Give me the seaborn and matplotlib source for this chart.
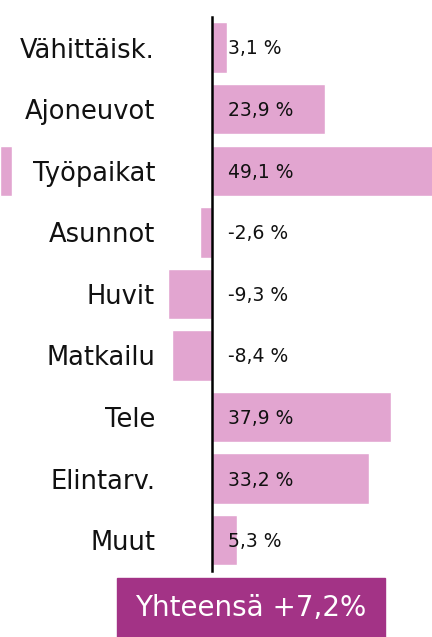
import matplotlib
matplotlib.use("Agg")
import matplotlib.pyplot as plt
import seaborn as sns
import pandas as pd
from matplotlib.patches import Rectangle

# Data
categories = ["Vähittäisk.", "Ajoneuvot", "Työpaikat", "Asunnot", "Huvit",
              "Matkailu", "Tele", "Elintarv.", "Muut"]
values = [3.1, 23.9, 49.1, -2.6, -9.3, -8.4, 37.9, 33.2, 5.3]
total_label = "Yhteensä +7,2%"

bar_color = "#e2a5d0"
box_color = "#a33386"

sns.set_style("white")
plt.rcParams["font.family"] = ["DejaVu Sans"]

df = pd.DataFrame({"category": categories, "value": values})

fig = plt.figure(figsize=(4.32, 6.37), dpi=100)
ax = fig.add_axes([0, 0.1036, 1, 0.870])

sns.barplot(data=df, x="value", y="category", orient="h", color=bar_color,
            width=0.82, saturation=1, ax=ax)

xmin, xmax = -44.8, 46.5
ax.set_xlim(xmin, xmax)
ax.set_ylim(len(categories) - 0.5, -0.5)

# bar that runs past the right edge shows up again on the left
for i, v in enumerate(values):
    if v > xmax:
        ax.barh(i, v - xmax, left=xmin, height=0.82, color=bar_color)

# value labels just right of the zero line
for i, v in enumerate(values):
    txt = f"{v:.1f}".replace(".", ",") + " %"
    ax.annotate(txt, xy=(0, i), xytext=(11.5, -1), textcoords="offset points",
                ha="left", va="center", fontsize=13.5, color="#111111")

# axis styling: only the zero line
for s in ["top", "right", "bottom"]:
    ax.spines[s].set_visible(False)
ax.spines["left"].set_position(("data", 0))
ax.spines["left"].set_color("black")
ax.spines["left"].set_linewidth(1.8)
ax.set_zorder(1)
ax.set_xticks([])
ax.tick_params(axis="y", length=0, pad=41, labelsize=18.5, labelcolor="#111111")
ax.set_xlabel("")
ax.set_ylabel("")
ax.patch.set_alpha(0)

# total box
fig.patches.append(Rectangle((117 / 432, 0), 268 / 432, 59 / 637,
                             transform=fig.transFigure, color=box_color))
fig.text(251 / 432, 0.046, total_label, ha="center", va="center",
         color="white", fontsize=20)

fig.savefig("out.png", dpi=100)
